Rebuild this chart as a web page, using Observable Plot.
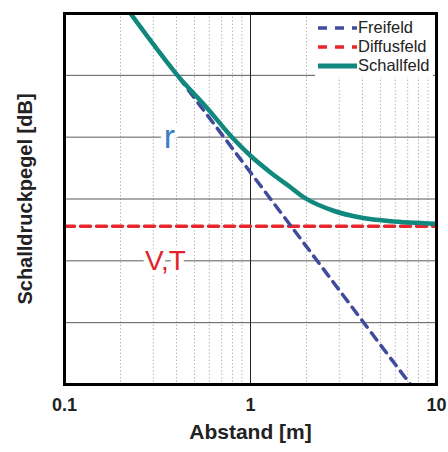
<!DOCTYPE html>
<html>
<head>
<meta charset="utf-8">
<script src="https://cdn.jsdelivr.net/npm/d3@7"></script>
<script src="https://cdn.jsdelivr.net/npm/@observablehq/plot@0.6"></script>
<style>
  body { margin: 0; background: #fff; font-family: "Liberation Sans", Arial, sans-serif; }
  #wrap { position: relative; width: 448px; height: 452px; }
  #legend { position: absolute; left: 315px; top: 15px; width: 118px; height: 62px; background: #fff; }
  .row { position: absolute; left: 0; height: 19px; display: flex; align-items: center; }
  .row span { font-size: 16.5px; color: #222; margin-left: 1px; }
</style>
</head>
<body>
<div id="wrap"></div>
<script>
// Distance values (m) and levels (dB, schematic scale 0..60)
const freifeldR = [0.2263, 0.5, 1, 2, 5, 7.25];
const freifeldL = [60, 46.3, 34.3, 22.3, 6.4, 0];

const diffusR = [0.1, 10];
const diffusL = [25.6, 25.6];

const schallR = [0.2263, 0.405, 0.573, 0.8, 1, 1.281, 1.641, 1.976, 2.794, 3.903, 5.66, 10];
const schallL = [60, 50, 45, 39.9, 37.0, 34.3, 31.9, 30.1, 28.1, 27.0, 26.4, 26.0];

const xTicks = [0.1, 1, 10];
const xTickLabels = ["0.1", "1", "10"];
const minorX = [0.2, 0.3, 0.4, 0.5, 0.6, 0.7, 0.8, 0.9, 2, 3, 4, 5, 6, 7, 8, 9];
const majorX = [1];
const yGrid = [10, 20, 30, 40, 50];

const annotations = [
  {text: "r", x: 0.367, y: 40, color: "#3a7fc4", size: 34},
  {text: "V,T", x: 0.349, y: 20, color: "#e3232b", size: 28}
];

const legendItems = [
  {name: "Freifeld", color: "#414b9c", dash: "9,8", width: 3.5},
  {name: "Diffusfeld", color: "#e8262c", dash: "9,8", width: 3.5},
  {name: "Schallfeld", color: "#10887e", dash: null, width: 5}
];

const free = freifeldR.map((r, i) => ({r, L: freifeldL[i]}));
const diff = diffusR.map((r, i) => ({r, L: diffusL[i]}));
const schall = schallR.map((r, i) => ({r, L: schallL[i]}));
const ticks = xTicks.map((v, i) => ({v, label: xTickLabels[i]}));

const chart = Plot.plot({
  width: 448,
  height: 452,
  marginLeft: 64,
  marginRight: 12,
  marginTop: 13,
  marginBottom: 68,
  style: {fontFamily: "Liberation Sans, Arial, sans-serif", background: "#fff"},
  x: {type: "log", domain: [0.1, 10], axis: null},
  y: {domain: [0, 60], axis: null},
  marks: [
    Plot.ruleX(minorX, {stroke: "#b8b8b8", strokeWidth: 1, strokeDasharray: "1.5,2"}),
    Plot.ruleY(yGrid, {stroke: "#5a5a5a", strokeWidth: 1}),
    Plot.ruleX(majorX, {stroke: "#222", strokeWidth: 1}),
    Plot.line(diff, {x: "r", y: "L", stroke: "#e8262c", strokeWidth: 3.5, strokeDasharray: "10,6"}),
    Plot.line(free, {x: "r", y: "L", stroke: "#414b9c", strokeWidth: 3.5, strokeDasharray: "9,7", clip: true}),
    Plot.line(schall, {x: "r", y: "L", stroke: "#10887e", strokeWidth: 4.5, curve: "catmull-rom", clip: true}),
    ...annotations.map(a => Plot.text([a], {
      x: "x", y: "y", text: "text", fill: a.color, fontSize: a.size,
      stroke: "white", strokeWidth: 10, paintOrder: "stroke"
    })),
    Plot.frame({stroke: "#000", strokeWidth: 3}),
    Plot.text(ticks, {x: "v", text: "label", frameAnchor: "bottom", dy: 26, fontSize: 18, fontWeight: "bold", fill: "#222"}),
    Plot.text(["Abstand [m]"], {frameAnchor: "bottom", dy: 54, fontSize: 21, fontWeight: "bold", fill: "#222"}),
    Plot.text(["Schalldruckpegel [dB]"], {frameAnchor: "left", textAnchor: "middle", dx: -39, rotate: -90, fontSize: 20, fontWeight: "bold", fill: "#222"})
  ]
});

const wrap = document.getElementById("wrap");
wrap.appendChild(chart);

const legend = document.createElement("div");
legend.id = "legend";
legendItems.forEach((d, i) => {
  const row = document.createElement("div");
  row.className = "row";
  row.style.top = (3 + i * 19) + "px";
  const svg = document.createElementNS("http://www.w3.org/2000/svg", "svg");
  svg.setAttribute("width", 42);
  svg.setAttribute("height", 19);
  const line = document.createElementNS("http://www.w3.org/2000/svg", "line");
  line.setAttribute("x1", 3); line.setAttribute("x2", 42);
  line.setAttribute("y1", 10); line.setAttribute("y2", 10);
  line.setAttribute("stroke", d.color);
  line.setAttribute("stroke-width", d.width);
  if (d.dash) line.setAttribute("stroke-dasharray", d.dash);
  svg.appendChild(line);
  const span = document.createElement("span");
  span.textContent = d.name;
  row.appendChild(svg);
  row.appendChild(span);
  legend.appendChild(row);
});
wrap.appendChild(legend);
</script>
</body>
</html>
